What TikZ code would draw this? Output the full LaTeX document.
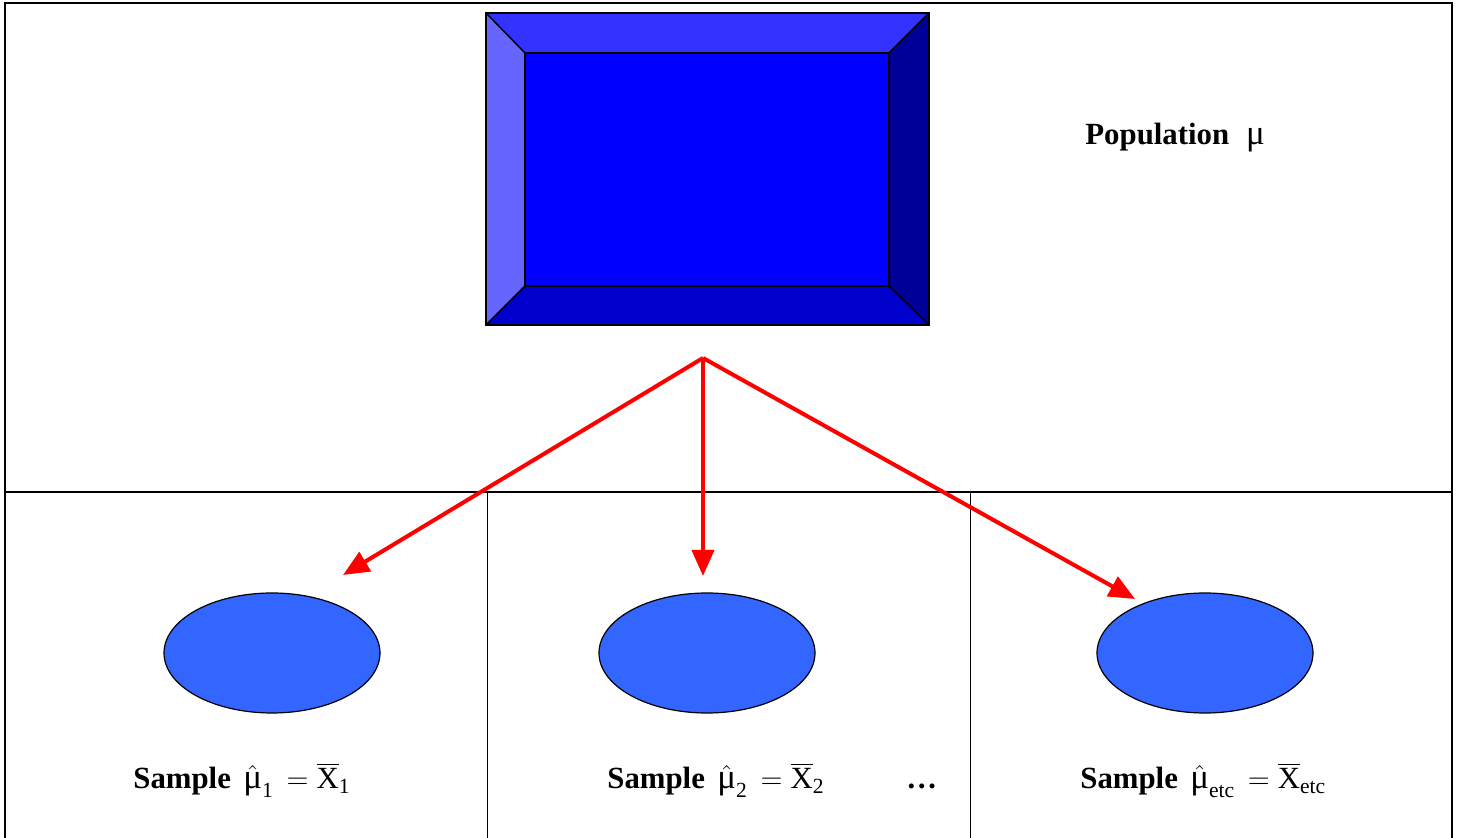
\documentclass[tikz,border=0pt]{standalone}
\usepackage{amsmath}
\usepackage{fontspec}
\setmainfont{Liberation Serif}
\usetikzlibrary{shapes.geometric,arrows.meta}
\definecolor{bvtop}{HTML}{3333FF}
\definecolor{bvleft}{HTML}{6666FF}
\definecolor{bvface}{HTML}{0000FF}
\definecolor{bvbot}{HTML}{0000CC}
\definecolor{bvright}{HTML}{000099}
\definecolor{ellfill}{HTML}{3366FF}
\newcommand{\mumu}{\text{\fontsize{17.5}{18}\selectfont μ}}
\tikzset{
  frame/.style={line width=1pt,black},
  midline/.style={line width=1.1pt,black},
  divider/.style={line width=0.5pt,black},
  bevel/.style={draw=black,line width=0.75pt,line join=miter},
  sampleell/.style={ellipse,draw=black,line width=0.6pt,fill=ellfill,minimum width=108pt,minimum height=60pt,inner sep=0pt},
  redarrow/.style={draw=red,line width=2pt,-{Triangle[length=13pt,width=11pt]}},
  lbl/.style={anchor=base west,inner sep=0pt,font=\fontsize{15.4}{18}\selectfont}
}
\begin{document}
\begin{tikzpicture}[x=0.5pt,y=-0.5pt]
\useasboundingbox (0,0) rectangle (1458,838);
% frame
\draw[frame] (5,850) -- (5,3) -- (1452,3) -- (1452,850);
\draw[midline] (5,492) -- (1452,492);
\draw[divider] (487,492) -- (487,850);
\draw[divider] (970,492) -- (970,850);
% bevel box
\coordinate (o1) at (486,13); \coordinate (o2) at (929,13);
\coordinate (o3) at (929,325); \coordinate (o4) at (486,325);
\coordinate (i1) at (525,53); \coordinate (i2) at (889,53);
\coordinate (i3) at (889,286); \coordinate (i4) at (525,286);
\fill[bvtop] (o1) -- (o2) -- (i2) -- (i1) -- cycle;
\fill[bvleft] (o1) -- (i1) -- (i4) -- (o4) -- cycle;
\fill[bvbot] (o4) -- (i4) -- (i3) -- (o3) -- cycle;
\fill[bvright] (o2) -- (o3) -- (i3) -- (i2) -- cycle;
\fill[bvface] (i1) rectangle (i3);
\draw[bevel] (o1) rectangle (o3);
\draw[bevel] (i1) rectangle (i3);
\draw[bevel] (o1) -- (i1) (o2) -- (i2) (o3) -- (i3) (o4) -- (i4);
% ellipses
\node[sampleell] (e1) at (272,653) {};
\node[sampleell] (e2) at (707,653) {};
\node[sampleell] (e3) at (1205,653) {};
% arrows
\coordinate (src) at (703,358);
\coordinate (t1) at (343,575);
\coordinate (t2) at (703,576);
\coordinate (t3) at (1135,599);
\draw[redarrow] (src) -- (t1);
\draw[redarrow] (src) -- (t2);
\draw[redarrow] (src) -- (t3);
% labels
\node[lbl] (pop) at (1085,145) {\textbf{Population}\hspace{0.55em}\mumu};
\node[lbl] (s1) at (133,789) {\textbf{Sample}\hspace{0.4em}$\hat{\mumu}_{\text{1}}\,=\overline{\text{X}}_{\text{1}}$};
\node[lbl] (s2) at (607,789) {\textbf{Sample}\hspace{0.4em}$\hat{\mumu}_{\text{2}}\,=\overline{\text{X}}_{\text{2}}$};
\node[lbl] (dots) at (906,789) {\textbf{…}};
\node[lbl] (s3) at (1080,789) {\textbf{Sample}\hspace{0.4em}$\hat{\mumu}_{\text{etc}}\,=\overline{\text{X}}_{\text{etc}}$};
\end{tikzpicture}
\end{document}
